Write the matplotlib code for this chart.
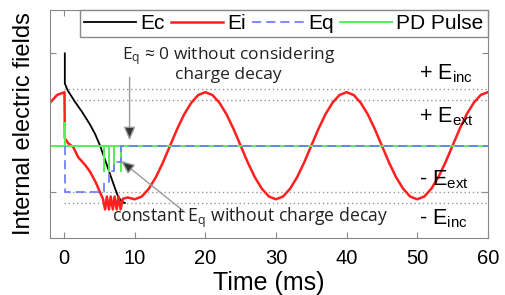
import matplotlib.pyplot as plt
from matplotlib.lines import Line2D

plt.rcParams['font.family'] = ['Liberation Sans', 'DejaVu Sans']
plt.rcParams['mathtext.default'] = 'regular'

# Ei (red) - internal field (ms, arb. units)
ei_t = [-2, -1, 0.05, 0.1, 0.6, 1.3, 2.0, 3.0, 3.7, 4.5, 5.0, 5.5,
        5.8, 6.05, 6.35, 6.6, 6.9, 7.15, 7.45, 7.7, 8.0, 8.3, 9] + list(range(10, 61))
ei_v = [0.93, 1.10, 1.16, 0.16, 0.05, -0.03, -0.25, -0.42, -0.57, -0.80, -0.98, -1.15,
        -1.38, -1.10, -1.38, -1.10, -1.38, -1.10, -1.38, -1.10, -1.38, -1.15, -1.12,
        -1.16, -1.10, -0.93, -0.68, -0.36, 0.00, 0.36, 0.68, 0.93, 1.10,
        1.16, 1.10, 0.93, 0.68, 0.36, 0.00, -0.36, -0.68, -0.93, -1.10,
        -1.16, -1.10, -0.93, -0.68, -0.36, 0.00, 0.36, 0.68, 0.93, 1.10,
        1.16, 1.10, 0.93, 0.68, 0.36, 0.00, -0.36, -0.68, -0.93, -1.10,
        -1.16, -1.10, -0.93, -0.68, -0.36, 0.00, 0.36, 0.68, 0.93, 1.10,
        1.16]

# Ec (black)
ec_t = [0.1, 0.1, 0.5, 1.55, 2.6, 3.7, 4.4, 5.1, 5.9, 6.65, 7.2, 7.65, 8.1, 8.6]
ec_v = [2.0, 1.35, 1.2, 0.95, 0.72, 0.45, 0.25, 0.0, -0.35, -0.68, -0.92, -1.10, -1.20, -1.24]

# Eq (blue dashed), stepwise
eq_t = [0.1, 0.1, 5.65, 5.65, 6.35, 6.35, 7.1, 7.1, 8.0, 8.0, 60]
eq_v = [0.0, -1.0, -1.0, -0.78, -0.78, -0.55, -0.55, -0.35, -0.35, 0.0, 0.0]

# PD pulses (green)
pd_times = [0.1, 5.65, 6.35, 7.1, 8.0]
pd_heights = [0.49, -0.55, -0.55, -0.55, -0.55]

levels = [1.24, 1.0, -1.0, -1.24]
level_labels = ['+ E$_{inc}$', '+ E$_{ext}$', '- E$_{ext}$', '- E$_{inc}$']
level_text_y = [1.44, 0.51, -0.85, -1.71]

pd_t, pd_v = [-2], [0]
for t, h in zip(pd_times, pd_heights):
    pd_t += [t, t, t]
    pd_v += [0, h, 0]
pd_t.append(60)
pd_v.append(0)

fig = plt.figure(figsize=(5.05, 2.95), dpi=100)
ax = fig.add_axes([0.099, 0.193, 0.867, 0.773])

for lv in levels:
    ax.plot([0, 60], [lv, lv], color='#999999', lw=1, ls=(0, (1, 2)))

c_red = '#ff1f1f'
c_blue = '#6677ff'
c_green = '#55f055'
ax.plot(ec_t, ec_v, color='black', lw=1.3)
ax.plot(ei_t, ei_v, color=c_red, lw=1.8)
ax.plot(pd_t, pd_v, color=c_green, lw=1.4)
ax.plot(eq_t, eq_v, color=c_blue, lw=1.2, dashes=(5.5, 3))

for y, s in zip(level_text_y, level_labels):
    ax.text(50.3, y, s, fontsize=15.5, ha='left', va='baseline')

arrow = dict(arrowstyle='-|>,head_length=0.8,head_width=0.35', mutation_scale=10,
             facecolor='#333333', edgecolor='#999999', lw=1, shrinkA=0, shrinkB=0)
ax.annotate('', xy=(9.27, 0.12), xytext=(9.27, 1.48), arrowprops=arrow)
ax.annotate('', xy=(8.07, -0.33), xytext=(17.1, -1.44), arrowprops=arrow)

ax.text(23.3, 1.76, 'E$_{q}$ ≈ 0 without considering\ncharge decay', ha='center', va='center',
        family=['Open Sans', 'DejaVu Sans'], fontsize=12.5, linespacing=1.0, color='#222222')
ax.text(26.3, -1.57, 'constant E$_{q}$ without charge decay', ha='center', va='center',
        family=['Open Sans', 'DejaVu Sans'], fontsize=12.7, color='#222222')

ax.set_xlim(-2, 60)
ax.set_ylim(-2.0, 2.94)
ax.set_xticks([0, 10, 20, 30, 40, 50, 60])
ax.set_yticks([-1, 2])
ax.set_yticklabels([])
ax.tick_params(direction='in', top=True, right=True, length=4, color='#888888',
               labelsize=14.5, pad=8)
for sp in ax.spines.values():
    sp.set_color('#888888')
ax.set_xlabel('Time (ms)', fontsize=18, labelpad=2)
ax.set_ylabel('Internal electric fields', fontsize=17, labelpad=3)

handles = [Line2D([], [], color='black', lw=1.3),
           Line2D([], [], color=c_red, lw=1.8),
           Line2D([], [], color=c_blue, lw=1.2, dashes=(5.5, 3)),
           Line2D([], [], color=c_green, lw=1.4)]
leg = ax.legend(handles, ['Ec', 'Ei', 'Eq', 'PD Pulse'], ncol=4, loc='upper right',
                borderaxespad=0, fontsize=15, handlelength=2.5, handletextpad=0.2,
                columnspacing=0.3, borderpad=0.2, fancybox=False, framealpha=1)
leg.get_frame().set_edgecolor('#888888')
leg.get_frame().set_linewidth(1)

fig.savefig('out.png', dpi=100)
